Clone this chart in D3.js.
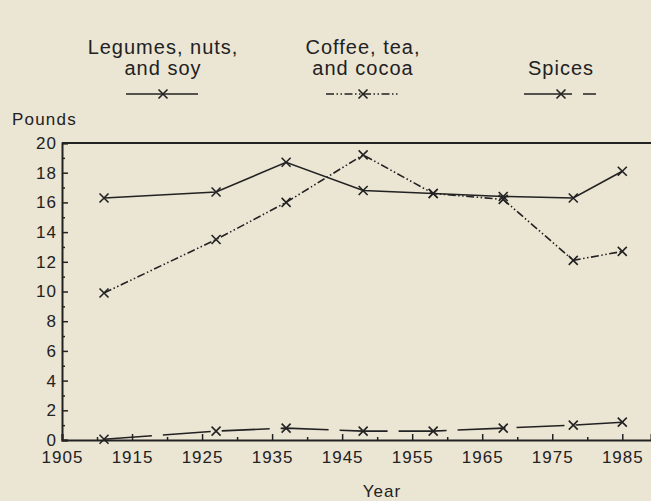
<!DOCTYPE html>
<html>
<head>
<meta charset="utf-8">
<script src="https://cdn.jsdelivr.net/npm/d3@7"></script>
<style>
  body { margin: 0; background: #ebe5d4; }
  svg { display: block; }
  text { font-family: "Liberation Sans", Arial, sans-serif; fill: #222; }
</style>
</head>
<body>
<div id="chart"></div>
<script>
// values (pounds per capita)
var years = [1911, 1927, 1937, 1948, 1958, 1968, 1978, 1985];
var legumes = [16.3, 16.7, 18.7, 16.8, 16.6, 16.4, 16.3, 18.1];
var coffee = [9.9, 13.5, 16.0, 19.2, 16.6, 16.2, 12.1, 12.7];
var spices = [0.05, 0.6, 0.8, 0.6, 0.6, 0.8, 1.0, 1.2];

var xTicks = [1905, 1915, 1925, 1935, 1945, 1955, 1965, 1975, 1985];
var xMinor = [1910, 1920, 1930, 1940, 1950, 1960, 1970, 1980];
var yTicks = [0, 2, 4, 6, 8, 10, 12, 14, 16, 18, 20];
var yMinor = [1, 3, 5, 7, 9, 11, 13, 15, 17, 19];

var seriesNames = [["Legumes, nuts,", "and soy"], ["Coffee, tea,", "and cocoa"], ["Spices"]];

var width = 651;
var height = 501;
var ink = "#222";

var svg = d3.select("#chart")
            .append("svg")
            .attr("width", width)
            .attr("height", height);

var x = d3.scaleLinear()
          .domain([1905, 1989.1])
          .range([62, 651]);

var y = d3.scaleLinear()
          .domain([0, 20])
          .range([440, 143]);

var series = [
    { name: seriesNames[0], values: legumes, dash: null, legendX: 163 },
    { name: seriesNames[1], values: coffee, dash: "8,2.5,1.5,2.5,1.5,2.5", legendX: 363 },
    { name: seriesNames[2], values: spices, dash: "48,11", legendX: 561 }
];

// top frame line
svg.append("line")
    .attr("x1", x(1905)).attr("x2", x.range()[1])
    .attr("y1", y(20)).attr("y2", y(20))
    .attr("stroke", ink).attr("stroke-width", 2);

// x axis
var xaxis = d3.axisBottom(x).tickValues(xTicks).tickFormat(d3.format("d"))
              .tickSize(-6).tickPadding(11);
var gx = svg.append("g").attr("transform", "translate(0," + y(0) + ")").call(xaxis);
gx.select(".domain").attr("stroke", ink).attr("stroke-width", 2);
gx.selectAll(".tick line").attr("stroke", ink).attr("stroke-width", 1.5);
gx.selectAll("text").attr("font-size", 17).attr("letter-spacing", 1)
    .style("font-family", "Liberation Sans, Arial, sans-serif").attr("fill", ink);

var gxm = svg.append("g").attr("transform", "translate(0," + y(0) + ")")
             .call(d3.axisBottom(x).tickValues(xMinor).tickSize(-3).tickFormat(""));
gxm.select(".domain").remove();
gxm.selectAll(".tick line").attr("stroke", ink).attr("stroke-width", 1.5);

// y axis
var yaxis = d3.axisLeft(y).tickValues(yTicks).tickSize(-6).tickPadding(5);
var gy = svg.append("g").attr("transform", "translate(" + x(1905) + ",0)").call(yaxis);
gy.select(".domain").attr("stroke", ink).attr("stroke-width", 2);
gy.selectAll(".tick line").attr("stroke", ink).attr("stroke-width", 1.5);
gy.selectAll("text").attr("font-size", 17).attr("letter-spacing", 1)
    .style("font-family", "Liberation Sans, Arial, sans-serif").attr("fill", ink);

var gym = svg.append("g").attr("transform", "translate(" + x(1905) + ",0)")
             .call(d3.axisLeft(y).tickValues(yMinor).tickSize(-3).tickFormat(""));
gym.select(".domain").remove();
gym.selectAll(".tick line").attr("stroke", ink).attr("stroke-width", 1.5);

// axis titles
svg.append("text").attr("x", 12).attr("y", 125)
    .attr("font-size", 17).attr("letter-spacing", 1.2).text("Pounds");
svg.append("text").attr("x", 382).attr("y", 497).attr("text-anchor", "middle")
    .attr("font-size", 17).attr("letter-spacing", 1).text("Year");

// lines
var line = d3.line()
    .x((d, i) => x(years[i]))
    .y((d) => y(d));

function cross(g, cx, cy) {
    var s = 4.5;
    g.append("path")
        .attr("d", "M" + (cx - s) + "," + (cy - s) + "L" + (cx + s) + "," + (cy + s) +
                   "M" + (cx - s) + "," + (cy + s) + "L" + (cx + s) + "," + (cy - s))
        .attr("stroke", ink).attr("stroke-width", 1.6).attr("fill", "none");
}

series.forEach(function(s) {
    var g = svg.append("g");
    g.append("path")
        .attr("d", line(s.values))
        .attr("fill", "none")
        .attr("stroke", ink)
        .attr("stroke-width", 1.6)
        .attr("stroke-dasharray", s.dash);
    s.values.forEach(function(v, i) {
        cross(g, x(years[i]), y(v));
    });

    // legend
    var lg = svg.append("g");
    s.name.forEach(function(t, j) {
        var base = s.name.length == 1 ? 75 : 54 + j * 21;
        lg.append("text")
            .attr("x", s.legendX)
            .attr("y", base)
            .attr("text-anchor", "middle")
            .attr("font-size", 20)
            .attr("letter-spacing", 1)
            .text(t);
    });
    lg.append("line")
        .attr("x1", s.legendX - 37).attr("x2", s.legendX + 35)
        .attr("y1", 94).attr("y2", 94)
        .attr("stroke", ink).attr("stroke-width", 1.5)
        .attr("stroke-dasharray", s.dash);
    cross(lg, s.legendX, 94);
});
</script>
</body>
</html>
